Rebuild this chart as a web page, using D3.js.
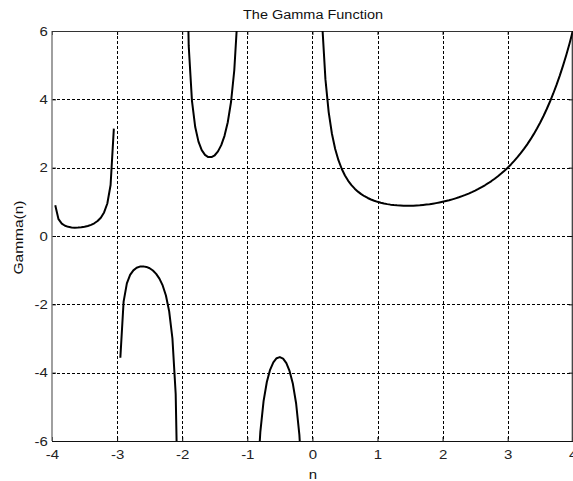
<!DOCTYPE html>
<html><head><meta charset="utf-8">
<script src="https://cdn.jsdelivr.net/npm/d3@7"></script>
<style>body{margin:0;background:#fff}svg{display:block}</style>
</head><body>
<script>
const seg1N = [-3.95,-3.90,-3.85,-3.80,-3.75,-3.70,-3.65,-3.60,-3.55,-3.50,-3.45,-3.40,-3.35,-3.30,-3.25,-3.20,-3.15,-3.10,-3.05];
const seg1G = [0.902,0.492,0.361,0.300,0.268,0.252,0.245,0.247,0.255,0.270,0.293,0.326,0.372,0.439,0.536,0.689,0.952,1.492,3.142];
const seg2N = [-2.95,-2.90,-2.85,-2.80,-2.75,-2.70,-2.65,-2.60,-2.55,-2.50,-2.45,-2.40,-2.35,-2.30,-2.25,-2.20,-2.15,-2.10,-2.05];
const seg2G = [-3.563,-1.919,-1.388,-1.139,-1.005,-0.931,-0.896,-0.889,-0.905,-0.945,-1.011,-1.108,-1.247,-1.447,-1.743,-2.205,-3.000,-4.626,-9.584];
const seg3N = [-1.95,-1.90,-1.85,-1.80,-1.75,-1.70,-1.65,-1.60,-1.55,-1.50,-1.45,-1.40,-1.35,-1.30,-1.25,-1.20,-1.15,-1.10,-1.05];
const seg3G = [10.51,5.564,3.956,3.188,2.762,2.514,2.374,2.311,2.309,2.363,2.477,2.659,2.931,3.329,3.921,4.851,6.449,9.715,19.65];
const seg4N = [-0.95,-0.90,-0.85,-0.80,-0.75,-0.70,-0.65,-0.60,-0.55,-0.50,-0.45,-0.40,-0.35,-0.30,-0.25,-0.20,-0.15,-0.10,-0.05];
const seg4G = [-20.50,-10.57,-7.318,-5.739,-4.834,-4.274,-3.917,-3.697,-3.578,-3.545,-3.591,-3.723,-3.957,-4.327,-4.902,-5.821,-7.417,-10.69,-20.63];
const seg5N = [0.05,0.10,0.15,0.20,0.25,0.30,0.35,0.40,0.45,0.50,0.55,0.60,0.65,0.70,0.75,0.80,0.85,0.90,0.95,1.00,
  1.05,1.10,1.15,1.20,1.25,1.30,1.35,1.40,1.45,1.50,1.55,1.60,1.65,1.70,1.75,1.80,1.85,1.90,1.95,2.00,
  2.05,2.10,2.15,2.20,2.25,2.30,2.35,2.40,2.45,2.50,2.55,2.60,2.65,2.70,2.75,2.80,2.85,2.90,2.95,3.00,
  3.05,3.10,3.15,3.20,3.25,3.30,3.35,3.40,3.45,3.50,3.55,3.60,3.65,3.70,3.75,3.80,3.85,3.90,3.95,4.00];
const seg5G = [19.47,9.514,6.220,4.591,3.626,2.992,2.546,2.218,1.968,1.772,1.616,1.489,1.385,1.298,1.225,1.164,1.113,1.069,1.032,1.000,
  0.974,0.951,0.933,0.918,0.906,0.897,0.891,0.887,0.886,0.886,0.889,0.894,0.900,0.909,0.919,0.931,0.946,0.962,0.980,1.000,
  1.022,1.046,1.073,1.102,1.133,1.167,1.203,1.242,1.284,1.329,1.378,1.430,1.485,1.545,1.608,1.676,1.749,1.827,1.911,2.000,
  2.095,2.198,2.307,2.424,2.549,2.683,2.827,2.981,3.146,3.323,3.513,3.717,3.936,4.171,4.423,4.694,4.986,5.299,5.637,6.000];
const xTicks = [-4,-3,-2,-1,0,1,2,3,4];
const yTicks = [-6,-4,-2,0,2,4,6];
const titleText = "The Gamma Function";
const xLabel = "n";
const yLabel = "Gamma(n)";

const W = 573, H = 481;
const L = 52, R = 572.8, T = 31, B = 441;
const svg = d3.select("body").append("svg").attr("width", W).attr("height", H);
const x = d3.scaleLinear().domain([-4, 4]).range([L, R]);
const y = d3.scaleLinear().domain([-6, 6]).range([B, T]);
const font = "Liberation Sans, Arial, Helvetica, sans-serif";

svg.append("defs").append("clipPath").attr("id", "clip")
  .append("rect").attr("x", L).attr("y", T).attr("width", R - L).attr("height", B - T);

// grid
const grid = svg.append("g").attr("stroke", "#000").attr("stroke-width", 1).attr("stroke-dasharray", "3,2");
grid.selectAll("line.v").data(xTicks.slice(1, -1)).join("line")
  .attr("x1", d => Math.round(x(d)) + 0.5).attr("x2", d => Math.round(x(d)) + 0.5)
  .attr("y1", T).attr("y2", B);
grid.selectAll("line.h").data(yTicks.slice(1, -1)).join("line")
  .attr("y1", d => Math.round(y(d)) + 0.5).attr("y2", d => Math.round(y(d)) + 0.5)
  .attr("x1", L).attr("x2", R);

// axes
const fmt = d => String(d);
const xAxisB = d3.axisBottom(x).tickValues(xTicks).tickSize(-4).tickPadding(9).tickFormat(fmt);
const xAxisT = d3.axisTop(x).tickValues(xTicks).tickSize(-4).tickFormat("");
const yAxisL = d3.axisLeft(y).tickValues(yTicks).tickSize(-4).tickPadding(3.5).tickFormat(fmt);
const yAxisR = d3.axisRight(y).tickValues(yTicks).tickSize(-4).tickFormat("");
function style(g) {
  g.select(".domain").remove();
  g.selectAll(".tick line").attr("stroke", "#000");
  g.selectAll(".tick text").attr("fill", "#222").style("font-family", font).style("font-size", "12.5px")
    .attr("transform", "scale(1.2,1)");
}
svg.append("g").attr("transform", `translate(0,${B})`).call(xAxisB).call(style);
svg.append("g").attr("transform", `translate(0,${T})`).call(xAxisT).call(style);
svg.append("g").attr("transform", `translate(${L},0)`).call(yAxisL).call(style);
svg.append("g").attr("transform", `translate(${R},0)`).call(yAxisR).call(style);

svg.append("line").attr("x1", L).attr("x2", L).attr("y1", T).attr("y2", B)
  .attr("stroke", "#777").attr("stroke-width", 1.4);
svg.append("line").attr("x1", L).attr("x2", R).attr("y1", B + 0.5).attr("y2", B + 0.5)
  .attr("stroke", "#111").attr("stroke-width", 1.2);
svg.append("line").attr("x1", L).attr("x2", R).attr("y1", T + 0.5).attr("y2", T + 0.5)
  .attr("stroke", "#333").attr("stroke-width", 1.2);
svg.append("line").attr("x1", R - 0.5).attr("x2", R - 0.5).attr("y1", T).attr("y2", B)
  .attr("stroke", "#333").attr("stroke-width", 1.2);

// curves
const segs = [[seg1N, seg1G], [seg2N, seg2G], [seg3N, seg3G], [seg4N, seg4G], [seg5N, seg5G]];
const line = d3.line().x(d => x(d[0])).y(d => y(d[1]));
svg.append("g").attr("clip-path", "url(#clip)")
  .selectAll("path").data(segs.map(([n, g]) => n.map((v, i) => [v, g[i]]))).join("path")
  .attr("d", line).attr("fill", "none").attr("stroke", "#000").attr("stroke-width", 2)
  .attr("stroke-linejoin", "round");

// labels
svg.append("text").attr("x", 313).attr("y", 19).attr("text-anchor", "middle")
  .attr("textLength", 140).attr("lengthAdjust", "spacingAndGlyphs")
  .style("font-family", font).style("font-size", "12.5px").attr("fill", "#111").text(titleText);
svg.append("text").attr("x", 313 / 1.2).attr("y", 479).attr("text-anchor", "middle")
  .attr("transform", "scale(1.2,1)")
  .style("font-family", font).style("font-size", "12.5px").attr("fill", "#111").text(xLabel);
svg.append("text").attr("transform", `translate(23,237.5) rotate(-90)`).attr("text-anchor", "middle")
  .attr("textLength", 74).attr("lengthAdjust", "spacingAndGlyphs")
  .style("font-family", font).style("font-size", "12.5px").attr("fill", "#111").text(yLabel);
</script>
</body></html>
